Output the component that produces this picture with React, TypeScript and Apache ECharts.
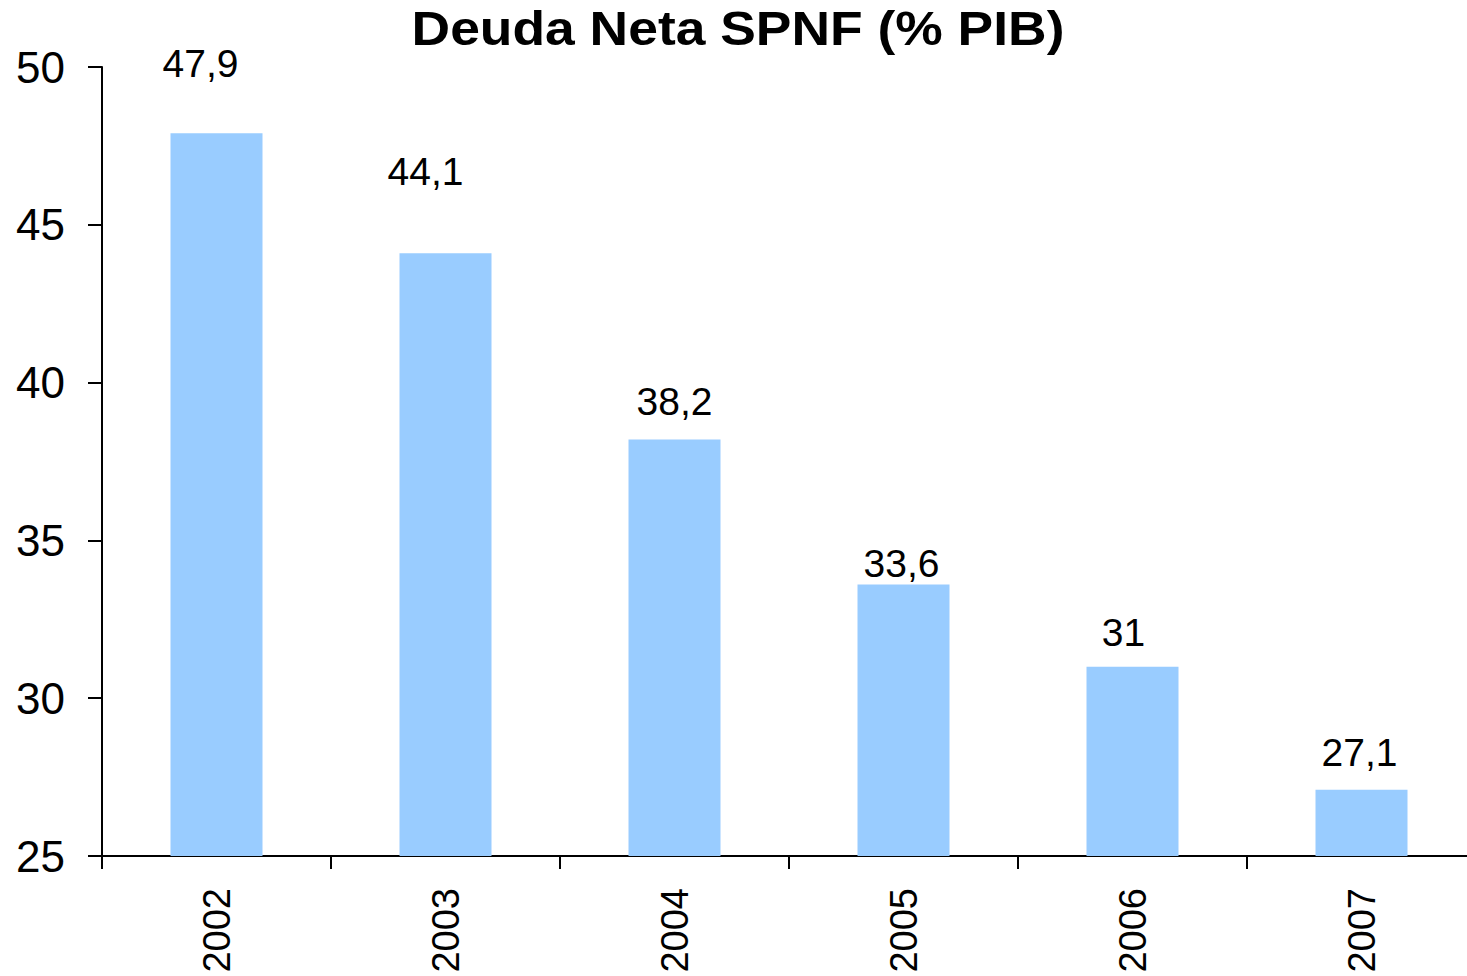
import React, { useEffect, useRef } from "react";
import * as echarts from "echarts";

const titleText = "Deuda Neta SPNF (% PIB)";
const years = ["2002", "2003", "2004", "2005", "2006", "2007"];
const debtValues = [47.9, 44.1, 38.2, 33.6, 31, 27.1];
const yTicks = { min: 25, max: 50, interval: 5 };
// manual label nudges (px) as placed in the original chart
const labelOffsets: [number, number][] = [
  [-16, -50],
  [-20, -62],
  [0, -18],
  [-2, -2],
  [-9, -15],
  [-2, -18],
];

const FONT = "'Liberation Sans', Arial, sans-serif";

export default function App() {
  const ref = useRef<HTMLDivElement>(null);
  useEffect(() => {
    if (!ref.current) return;
    const chart = echarts.init(ref.current, undefined, { renderer: "svg" });
    chart.setOption({
      animation: false,
      backgroundColor: "#ffffff",
      graphic: [
        {
          type: "text",
          x: 738,
          y: 28,
          scaleX: 1.09,
          style: {
            text: titleText,
            fontFamily: FONT,
            fontWeight: "bold",
            fontSize: 49,
            fill: "#000",
            textAlign: "center",
            textVerticalAlign: "middle",
            verticalAlign: "middle",
          },
        },
      ],
      grid: { left: 102, top: 67, width: 1374, height: 789, containLabel: false },
      xAxis: {
        type: "category",
        data: years,
        boundaryGap: true,
        axisLine: { show: true, lineStyle: { color: "#000", width: 2 } },
        axisTick: { show: true, length: 13, interval: 0, alignWithLabel: false, lineStyle: { color: "#000", width: 2 } },
        axisLabel: {
          rotate: 90,
          interval: 0,
          margin: 32,
          fontSize: 38,
          fontFamily: FONT,
          color: "#000",
        },
        splitLine: { show: false },
      },
      yAxis: {
        type: "value",
        min: yTicks.min,
        max: yTicks.max,
        interval: yTicks.interval,
        axisLine: { show: true, lineStyle: { color: "#000", width: 2 } },
        axisTick: { show: true, length: 14, lineStyle: { color: "#000", width: 2 } },
        axisLabel: { margin: 37, fontSize: 44, fontFamily: FONT, color: "#000" },
        splitLine: { show: false },
      },
      series: [
        {
          type: "bar",
          barWidth: 92,
          itemStyle: { color: "#99CCFF" },
          data: debtValues.map((v, i) => ({
            value: v,
            label: { offset: labelOffsets[i] },
          })),
          label: {
            show: true,
            position: "top",
            distance: 0,
            fontSize: 39,
            fontFamily: FONT,
            color: "#000",
            formatter: (p: any) => String(p.value).replace(".", ","),
          },
        },
      ],
    });
    return () => chart.dispose();
  }, []);
  return (
    <div
      style={{
        position: "fixed",
        left: 0,
        top: 0,
        width: 1467,
        height: 976,
        overflow: "hidden",
        background: "#fff",
      }}
    >
      <div ref={ref} style={{ width: 1490, height: 976 }} />
    </div>
  );
}
